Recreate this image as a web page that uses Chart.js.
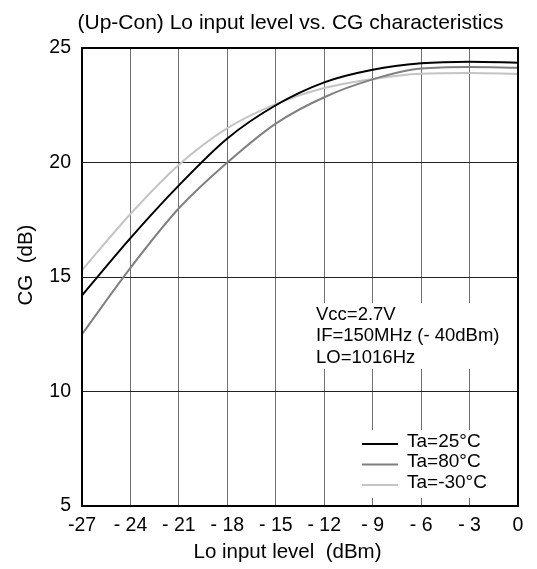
<!DOCTYPE html>
<html>
<head>
<meta charset="utf-8">
<script src="https://cdn.jsdelivr.net/npm/chart.js@4.4.1/dist/chart.umd.min.js"></script>
<style>
  body { margin: 0; background: #fff; }
  canvas { display: block; }
</style>
</head>
<body>
<canvas id="chart" width="537" height="569"></canvas>
<script>
// LO input level (dBm) on the x axis
const loLevels = [-27, -24, -21, -18, -15, -12, -9, -6, -3, 0];
const xTickLabels = ['-27', '- 24', '- 21', '- 18', '- 15', '- 12', '- 9', '- 6', '- 3', '0'];

// conversion gain (dB) per ambient temperature
const cgTa25 = [14.2, 16.7, 19.0, 21.05, 22.5, 23.5, 24.05, 24.33, 24.4, 24.36];
const cgTa80 = [12.5, 15.4, 18.0, 20.0, 21.7, 22.85, 23.63, 24.1, 24.17, 24.14];
const cgTaM30 = [15.3, 17.75, 19.9, 21.5, 22.55, 23.25, 23.65, 23.88, 23.91, 23.87];

const seriesNames = ['Ta=25°C', 'Ta=80°C', 'Ta=-30°C'];
const conditionLines = ['Vcc=2.7V', 'IF=150MHz (- 40dBm)', 'LO=1016Hz'];

const chartTitle = '(Up-Con) Lo input level vs. CG characteristics';
const xTitle = 'Lo input level  (dBm)';
const yTitle = 'CG  (dB)';

const FONT = '"Liberation Sans", Arial, sans-serif';

function toPoints(values) {
  return loLevels.map((x, i) => ({ x: x, y: values[i] }));
}

/**
 * Draws the white boxes behind the conditions text and the legend,
 * so the grid is broken there like in the datasheet figure.
 */
const boxesPlugin = {
  id: 'boxes',
  beforeDatasetsDraw(chart) {
    const { ctx } = chart;
    ctx.save();
    ctx.fillStyle = '#fff';
    ctx.fillRect(310, 303, 196, 66);
    ctx.fillRect(352, 430, 154, 68);
    ctx.restore();
  }
};

/**
 * Frame, titles, conditions and the inner legend.
 */
const textPlugin = {
  id: 'texts',
  afterDraw(chart) {
    const { ctx, chartArea: a } = chart;
    ctx.save();

    // plot frame
    ctx.strokeStyle = '#000';
    ctx.lineWidth = 2;
    ctx.strokeRect(a.left, a.top, a.right - a.left, a.bottom - a.top);

    ctx.fillStyle = '#000';
    ctx.font = '21px ' + FONT;
    ctx.textAlign = 'center';
    ctx.textBaseline = 'middle';
    ctx.fillText(chartTitle, 290.5, 23);
    ctx.font = '20.5px ' + FONT;
    ctx.fillText(xTitle, 287.5, 552);

    ctx.save();
    ctx.translate(26, 265);
    ctx.rotate(-Math.PI / 2);
    ctx.fillText(yTitle, 0, 0);
    ctx.restore();

    // test conditions
    ctx.font = '18.5px ' + FONT;
    ctx.textAlign = 'left';
    ctx.textBaseline = 'alphabetic';
    conditionLines.forEach((t, i) => ctx.fillText(t, 316, 320 + i * 21.3));

    // legend
    ctx.font = '19px ' + FONT;
    chart.data.datasets.forEach((ds, i) => {
      const y = 444 + i * 20.5;
      ctx.strokeStyle = ds.borderColor;
      ctx.lineWidth = ds.borderWidth;
      ctx.beginPath();
      ctx.moveTo(362, y);
      ctx.lineTo(398, y);
      ctx.stroke();
      ctx.fillStyle = '#000';
      ctx.fillText(ds.label, 407, y + 2.7);
    });

    ctx.restore();
  }
};

new Chart(document.getElementById('chart'), {
  type: 'line',
  data: {
    datasets: [
      { label: seriesNames[0], data: toPoints(cgTa25), borderColor: '#000000', borderWidth: 2 },
      { label: seriesNames[1], data: toPoints(cgTa80), borderColor: '#808080', borderWidth: 2 },
      { label: seriesNames[2], data: toPoints(cgTaM30), borderColor: '#c4c4c4', borderWidth: 2 }
    ]
  },
  options: {
    responsive: false,
    animation: false,
    layout: { padding: { top: 48, right: 19, left: 0, bottom: 0 } },
    elements: {
      point: { radius: 0 },
      line: { cubicInterpolationMode: 'monotone', fill: false }
    },
    plugins: {
      legend: { display: false },
      title: { display: false },
      tooltip: { enabled: false }
    },
    scales: {
      x: {
        type: 'linear',
        min: -27,
        max: 0,
        afterFit(s) { s.height = 63; },
        border: { display: false },
        grid: { color: '#707070', lineWidth: 1, drawTicks: false },
        ticks: {
          stepSize: 3,
          padding: 8,
          color: '#000',
          font: { family: FONT, size: 19.5 },
          maxRotation: 0,
          callback: (v) => xTickLabels[loLevels.indexOf(v)]
        }
      },
      y: {
        min: 5,
        max: 25,
        afterFit(s) { s.width = 82; },
        border: { display: false },
        grid: { color: '#222', lineWidth: 1, drawTicks: false },
        ticks: {
          stepSize: 5,
          padding: 11,
          color: '#000',
          font: { family: FONT, size: 19.5 }
        }
      }
    }
  },
  plugins: [boxesPlugin, textPlugin]
});
</script>
</body>
</html>
